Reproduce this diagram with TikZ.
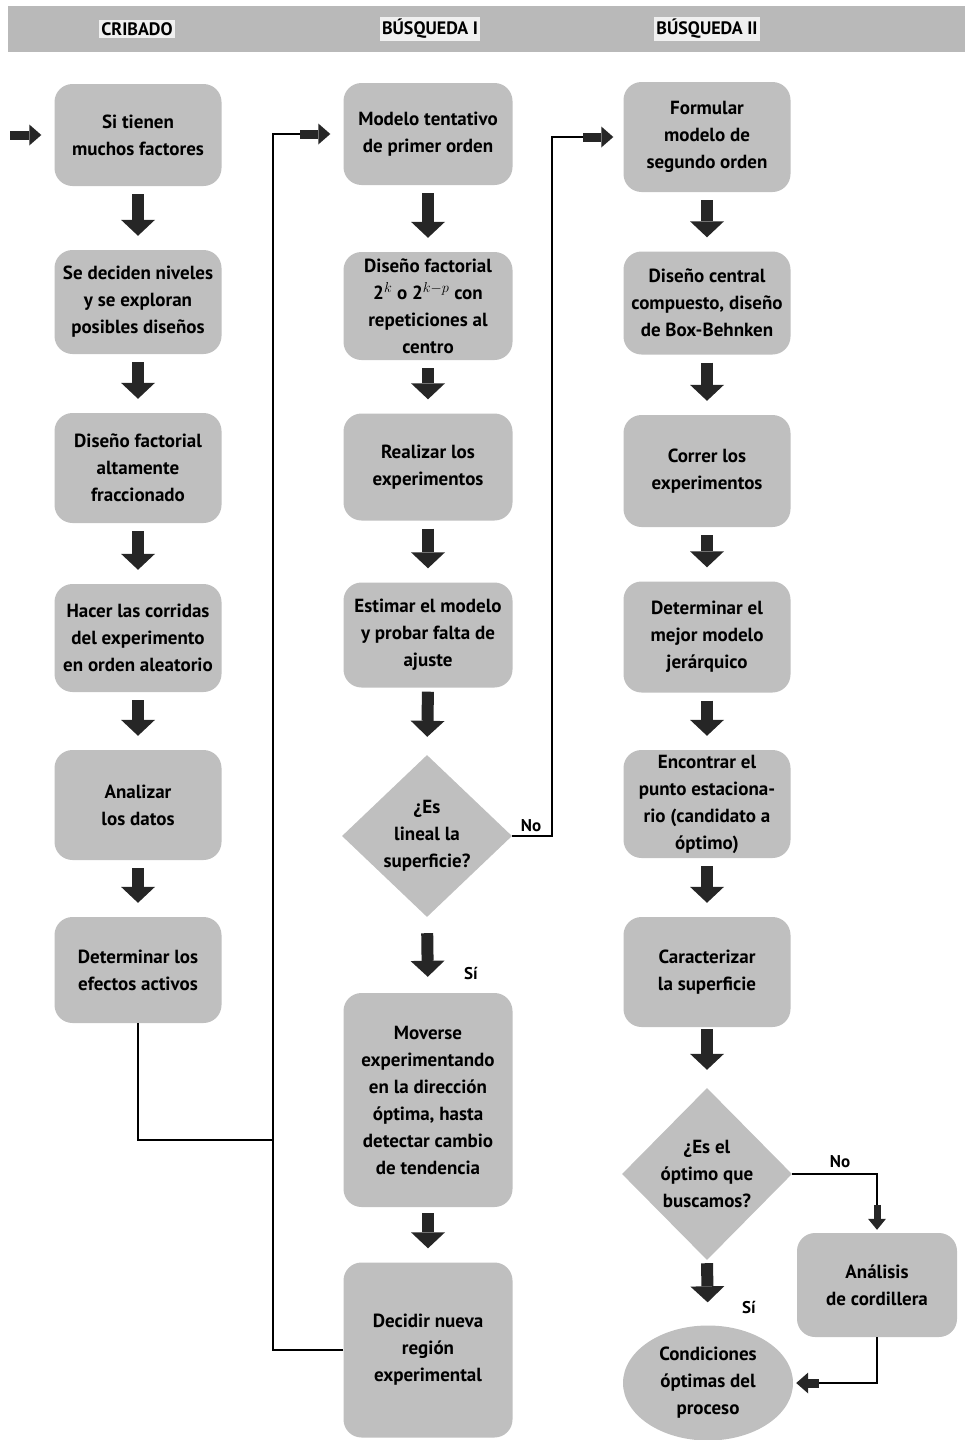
\documentclass[tikz,border=0pt]{standalone}
\usepackage{fontspec}
\setmainfont{PT Sans}
\usetikzlibrary{shapes.geometric,arrows.meta,calc}
\tikzset{
  btext/.style={align=center, font=\fontsize{19}{27}\selectfont\bfseries, text=black},
  box/.style={btext, fill=gray!50, rounded corners=18pt, minimum width=167pt, inner sep=0pt},
  decision/.style={diamond, fill=gray!50, minimum width=170pt, minimum height=162pt, inner sep=0pt},
  terminal/.style={ellipse, fill=gray!50, minimum width=170pt, minimum height=115pt, inner sep=0pt},
  head/.style={font=\fontsize{18}{20}\selectfont\bfseries, fill=gray!12, inner sep=2pt},
  band/.style={fill=gray!55, minimum width=957pt, minimum height=46pt, inner sep=0pt},
  lbl/.style={font=\fontsize{17}{20}\selectfont\bfseries},
  link/.style={line width=1.6pt, black},
  fatdown/.style={line width=12pt, black!85, -{Triangle[length=16pt,width=34pt,line width=0pt]}, shorten <=8pt, shorten >=14pt},
  fatsmall/.style={line width=9pt, black!85, -{Triangle[length=12pt,width=21pt,line width=0pt]}},
  fattiny/.style={line width=7pt, black!85, -{Triangle[length=11pt,width=18pt,line width=0pt]}},
}
\begin{document}
\begin{tikzpicture}[x=1pt,y=-1pt]
\useasboundingbox (0,0) rectangle (971,1440);
% header
\node[band] (band) at (486.5,29) {};
\node[head] (hc) at (137,29) {CRIBADO};
\node[head] (hb1) at (430,29) {BÚSQUEDA I};
\node[head] (hb2) at (707,29) {BÚSQUEDA II};

% column 1
\node[box, minimum height=102pt] (c1) at (138,135) {Si tienen\\muchos factores};
\node[box, minimum height=104pt] (c2) at (138,302) {Se deciden niveles\\y se exploran\\posibles diseños};
\node[box, minimum height=110pt] (c3) at (138,468) {Diseño factorial\\altamente\\fraccionado};
\node[box, minimum height=108pt] (c4) at (138,638) {Hacer las corridas\\del experimento\\en orden aleatorio};
\node[box, minimum height=110pt] (c5) at (138,805) {Analizar\\los datos};
\node[box, minimum height=106pt] (c6) at (138,970) {Determinar los\\efectos activos};

% column 2
\node[box, minimum height=102pt, minimum width=169pt] (m1) at (428,134) {Modelo tentativo\\de primer orden};
\node[box, minimum height=108pt, minimum width=169pt] (m2) at (428,306) {Diseño factorial\\2$^k$ o 2$^{k-p}$ con\\repeticiones al\\centro};
\node[box, minimum height=107pt, minimum width=169pt] (m3) at (428,467) {Realizar los\\experimentos};
\node[box, minimum height=105pt, minimum width=169pt] (m4) at (428,635) {Estimar el modelo\\y probar falta de\\ajuste};
\node[decision, label={[btext]center:{¿Es\\lineal la\\superficie?}}] (d1) at (427,836) {};
\node[box, minimum height=214pt, minimum width=169pt] (m6) at (428,1100) {Moverse\\experimentando\\en la dirección\\óptima, hasta\\detectar cambio\\de tendencia};
\node[box, minimum height=175pt, minimum width=169pt] (m7) at (428,1350) {Decidir nueva\\región\\experimental};

% column 3
\node[box, minimum height=110pt] (f1) at (707,137) {Formular\\modelo de\\segundo orden};
\node[box, minimum height=103pt] (f2) at (707,303) {Diseño central\\compuesto, diseño\\de Box-Behnken};
\node[box, minimum height=112pt] (f3) at (707,471) {Correr los\\experimentos};
\node[box, minimum height=111pt] (f4) at (707,637) {Determinar el\\mejor modelo\\jerárquico};
\node[box, minimum height=108pt] (f5) at (707,804) {Encontrar el\\punto estaciona-\\rio (candidato a\\óptimo)};
\node[box, minimum height=110pt] (f6) at (707,972) {Caracterizar\\la superficie};
\node[decision, minimum height=172pt, label={[btext]center:{¿Es el\\óptimo que\\buscamos?}}] (d2) at (707,1174) {};
\node[box, minimum height=104pt, minimum width=160pt] (ana) at (877,1285) {Análisis\\de cordillera};
\node[terminal, label={[btext]center:{Condiciones\\óptimas del\\proceso}}] (cond) at (708,1383) {};

% fat down arrows
\draw[fatdown] (c1.south) -- (c2.north);
\draw[fatdown] (c2.south) -- (c3.north);
\draw[fatdown] (c3.south) -- (c4.north);
\draw[fatdown] (c4.south) -- (c5.north);
\draw[fatdown] (c5.south) -- (c6.north);
\draw[fatdown] (m1.south) -- (m2.north);
\draw[fatdown] (m2.south) -- (m3.north);
\draw[fatdown] (m3.south) -- (m4.north);
\draw[fatdown, shorten <=4pt, shorten >=18pt] (m4.south) -- (d1.north);
\draw[fatdown, shorten <=16pt, shorten >=16pt] (d1.south) -- (m6.north);
\draw[fatdown, shorten <=6pt] (m6.south) -- (m7.north);
\draw[fatdown] (f1.south) -- (f2.north);
\draw[fatdown] (f2.south) -- (f3.north);
\draw[fatdown] (f3.south) -- (f4.north);
\draw[fatdown] (f4.south) -- (f5.north);
\draw[fatdown] (f5.south) -- (f6.north);
\draw[fatdown, shorten <=2pt, shorten >=18pt] (f6.south) -- (d2.north);
\draw[fatdown, shorten <=3pt, shorten >=23pt] (d2.south) -- (cond.north);

% entry arrow
\coordinate (s0) at (10,135);
\draw[fatsmall, shorten >=13pt] (s0) -- (c1.west);

% loop from cribado to busqueda I
\coordinate (j1) at (273,1140);
\coordinate (jtop) at (273,134);
\coordinate (jbot) at (273,1350);
\coordinate (a1) at (300,134);
\draw[link] (c6.south) |- (j1);
\draw[link] (m7.west) -- (jbot) -- (jtop) -- (a1);
\draw[fatsmall, shorten >=13pt] (a1) -- (m1.west);

% No branch from d1 to busqueda II
\coordinate (k2) at (552,137);
\coordinate (a2) at (583,137);
\draw[link] (d1.east) -| (k2) -- (a2);
\draw[fatsmall, shorten >=10pt] (a2) -- (f1.west);
\node[lbl] (no1) at (531,826) {No};
\node[lbl] (si1) at (471,973) {Sí};

% No branch from d2 to cordillera
\coordinate (k3) at ($(ana.north)+(0,-28)$);
\draw[link] (d2.east) -| (k3);
\draw[fattiny, shorten >=3pt] (k3) -- (ana.north);
\node[lbl] (no2) at (840,1162) {No};
\node[lbl] (si2) at (749,1307) {Sí};

% from cordillera to condiciones
\coordinate (k4) at ($(cond.east)+(26,0)$);
\draw[link] (ana.south) |- (k4);
\draw[fatsmall, shorten >=3pt] (k4) -- (cond.east);
\end{tikzpicture}
\end{document}
